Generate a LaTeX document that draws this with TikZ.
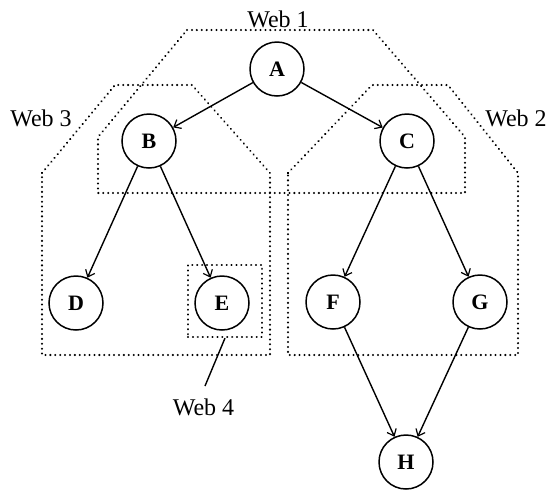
\documentclass[tikz,border=0pt]{standalone}
\usepackage{fontspec}
\setmainfont{Liberation Serif}
\usetikzlibrary{arrows.meta}
\begin{document}
\begin{tikzpicture}[x=1pt,y=-1pt,
  vertex/.style={circle,draw,line width=1.5pt,minimum size=54pt,inner sep=0pt,
    font=\fontsize{22}{22}\selectfont\bfseries},
  link/.style={line width=1.4pt,-{Straight Barb[length=6pt,width=10pt,line width=1.2pt]}},
  webline/.style={line width=2.2pt,line cap=round,dash pattern=on 0.1pt off 4.8pt},
  weblabel/.style={font=\fontsize{24}{24}\selectfont,inner sep=0pt,anchor=base}]
\useasboundingbox (0,0) rectangle (551,491);

% the webs
\draw[webline] (187,30) -- (373,30) -- (465,137) -- (465,193) -- (98,193) -- (98,137) -- cycle;
\draw[webline] (42,173) -- (115,85) -- (192,85) -- (270,173) -- (270,355) -- (42,355) -- cycle;
\draw[webline] (288,173) -- (372,85) -- (448,85) -- (518,173) -- (518,355) -- (288,355) -- cycle;
\node[draw,webline,minimum width=74pt,minimum height=72pt,inner sep=0pt] (w4box) at (225,301) {};

% web labels
\node[weblabel] (w1lbl) at (278,27) {Web 1};
\node[weblabel] (w2lbl) at (516,126) {Web 2};
\node[weblabel] (w3lbl) at (41,126) {Web 3};
\node[weblabel] (w4lbl) at (203.5,415) {Web 4};
\coordinate (w4tip) at (205,386);
\draw[line width=1.4pt] (w4box.south) -- (w4tip);

% nodes
\node[vertex] (A) at (277,69) {A};
\node[vertex] (B) at (149,141) {B};
\node[vertex] (C) at (407,141) {C};
\node[vertex] (D) at (76,303) {D};
\node[vertex] (E) at (222,303) {E};
\node[vertex] (F) at (333,302) {F};
\node[vertex] (G) at (480,302) {G};
\node[vertex] (H) at (406,462) {H};

% edges
\draw[link] (A) -- (B);
\draw[link] (A) -- (C);
\draw[link] (B) -- (D);
\draw[link] (B) -- (E);
\draw[link] (C) -- (F);
\draw[link] (C) -- (G);
\draw[link] (F) -- (H);
\draw[link] (G) -- (H);
\end{tikzpicture}
\end{document}
